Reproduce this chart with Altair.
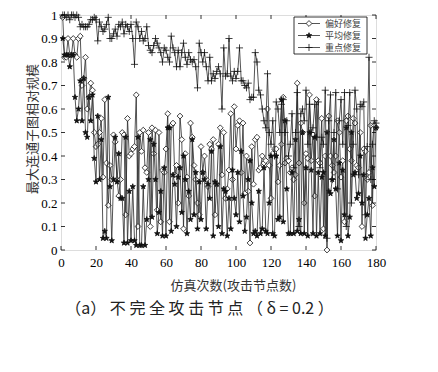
import altair as alt
import pandas as pd

x_vals = list(range(1, 181))

pref = [
    0.99, 0.82, 0.82, 0.90, 0.83, 0.83, 0.90, 0.83, 0.82, 0.90,
    0.91, 0.70, 0.73, 0.82, 0.60, 0.65, 0.71, 0.68, 0.50, 0.44,
    0.45, 0.50, 0.56, 0.31, 0.64, 0.37, 0.19, 0.36, 0.30, 0.49,
    0.46, 0.30, 0.23, 0.30, 0.50, 0.49, 0.15, 0.56, 0.40, 0.41,
    0.43, 0.44, 0.66, 0.10, 0.50, 0.42, 0.51, 0.35, 0.33, 0.50,
    0.10, 0.52, 0.41, 0.51, 0.17, 0.50, 0.12, 0.34, 0.33, 0.43,
    0.58, 0.12, 0.53, 0.54, 0.32, 0.36, 0.20, 0.57, 0.47, 0.09,
    0.41, 0.31, 0.23, 0.54, 0.48, 0.36, 0.30, 0.20, 0.15, 0.44,
    0.33, 0.40, 0.30, 0.27, 0.45, 0.43, 0.47, 0.15, 0.28, 0.45,
    0.52, 0.32, 0.50, 0.22, 0.26, 0.34, 0.58, 0.30, 0.61, 0.43,
    0.53, 0.55, 0.33, 0.54, 0.24, 0.40, 0.25, 0.03, 0.44, 0.28,
    0.47, 0.48, 0.34, 0.35, 0.40, 0.37, 0.38, 0.60, 0.36, 0.22,
    0.41, 0.43, 0.43, 0.29, 0.36, 0.45, 0.65, 0.37, 0.39, 0.38,
    0.33, 0.35, 0.30, 0.32, 0.71, 0.37, 0.54, 0.50, 0.20, 0.41,
    0.39, 0.66, 0.38, 0.49, 0.23, 0.64, 0.38, 0.37, 0.56, 0.09,
    0.40, 0.00, 0.57, 0.40, 0.36, 0.33, 0.40, 0.55, 0.50, 0.31,
    0.38, 0.12, 0.55, 0.57, 0.43, 0.38, 0.56, 0.54, 0.36, 0.35,
    0.50, 0.10, 0.43, 0.42, 0.30, 0.33, 0.53, 0.19, 0.53, 0.52,
]

avg = [
    0.90, 0.83, 0.83, 0.83, 0.78, 0.83, 0.83, 0.65, 0.55, 0.60,
    0.72, 0.55, 0.73, 0.50, 0.48, 0.65, 0.55, 0.66, 0.39, 0.29,
    0.57, 0.30, 0.47, 0.05, 0.08, 0.05, 0.65, 0.27, 0.04, 0.30,
    0.48, 0.29, 0.41, 0.22, 0.22, 0.03, 0.48, 0.03, 0.25, 0.04,
    0.27, 0.04, 0.02, 0.48, 0.02, 0.02, 0.27, 0.02, 0.13, 0.30,
    0.47, 0.14, 0.45, 0.30, 0.07, 0.16, 0.25, 0.06, 0.35, 0.06,
    0.52, 0.52, 0.08, 0.32, 0.28, 0.10, 0.31, 0.35, 0.16, 0.40,
    0.30, 0.07, 0.25, 0.13, 0.47, 0.15, 0.33, 0.09, 0.29, 0.13,
    0.33, 0.30, 0.09, 0.28, 0.22, 0.42, 0.06, 0.29, 0.28, 0.10,
    0.44, 0.07, 0.26, 0.25, 0.06, 0.22, 0.09, 0.34, 0.22, 0.15,
    0.33, 0.12, 0.42, 0.23, 0.08, 0.14, 0.30, 0.38, 0.20, 0.07,
    0.08, 0.06, 0.25, 0.07, 0.09, 0.35, 0.08, 0.07, 0.20, 0.40,
    0.07, 0.06, 0.40, 0.13, 0.14, 0.64, 0.12, 0.55, 0.26, 0.07,
    0.07, 0.33, 0.07, 0.47, 0.08, 0.13, 0.07, 0.50, 0.07, 0.35,
    0.06, 0.50, 0.34, 0.07, 0.48, 0.06, 0.33, 0.07, 0.31, 0.33,
    0.06, 0.50, 0.25, 0.24, 0.30, 0.47, 0.26, 0.06, 0.37, 0.04,
    0.34, 0.15, 0.52, 0.06, 0.14, 0.50, 0.32, 0.33, 0.22, 0.24,
    0.40, 0.20, 0.32, 0.05, 0.15, 0.22, 0.06, 0.35, 0.27, 0.52,
]

key = [
    1.00, 1.00, 0.99, 1.00, 0.98, 1.00, 1.00, 0.99, 1.00, 0.99,
    0.95, 0.96, 0.95, 0.95, 0.95, 0.96, 0.98, 0.98, 0.99, 0.98,
    0.89, 0.97, 0.95, 0.93, 0.94, 0.96, 0.99, 0.90, 0.90, 0.92,
    0.94, 0.91, 0.96, 0.95, 0.97, 0.92, 0.96, 0.95, 0.93, 0.96,
    0.90, 0.79, 0.97, 0.95, 0.90, 0.93, 0.89, 0.90, 0.95, 0.87,
    0.85, 0.84, 0.87, 0.90, 0.88, 0.86, 0.84, 0.80, 0.86, 0.85,
    0.82, 0.80, 0.91, 0.86, 0.84, 0.78, 0.85, 0.78, 0.84, 0.88,
    0.82, 0.79, 0.84, 0.81, 0.80, 0.81, 0.78, 0.69, 0.88, 0.84,
    0.80, 0.84, 0.78, 0.72, 0.82, 0.72, 0.75, 0.73, 0.76, 0.78,
    0.75, 0.60, 0.86, 0.74, 0.75, 0.90, 0.74, 0.72, 0.76, 0.73,
    0.76, 0.86, 0.72, 0.72, 0.70, 0.69, 0.71, 0.64, 0.65, 0.65,
    0.84, 0.80, 0.68, 0.66, 0.60, 0.55, 0.52, 0.75, 0.50, 0.45,
    0.55, 0.40, 0.63, 0.60, 0.50, 0.62, 0.64, 0.50, 0.55, 0.40,
    0.45, 0.58, 0.35, 0.50, 0.67, 0.10, 0.58, 0.60, 0.55, 0.68,
    0.45, 0.62, 0.50, 0.52, 0.62, 0.48, 0.63, 0.35, 0.48, 0.45,
    0.68, 0.05, 0.55, 0.66, 0.30, 0.50, 0.67, 0.26, 0.55, 0.64,
    0.45, 0.67, 0.10, 0.53, 0.67, 0.20, 0.45, 0.68, 0.60, 0.32,
    0.62, 0.61, 0.63, 0.15, 0.44, 0.82, 0.30, 0.45, 0.55, 0.54,
]

series_names = ["偏好修复", "平均修复", "重点修复"]
x_ticks = [0, 20, 40, 60, 80, 100, 120, 140, 160, 180]
y_ticks = [0, 0.1, 0.2, 0.3, 0.4, 0.5, 0.6, 0.7, 0.8, 0.9, 1.0]

TOP = 7
W, H = 315, 242 - TOP
SERIF = "Liberation Serif, Noto Sans CJK SC"
CJK = "Noto Sans CJK SC"
INK = "#2a2a2a"
MK = "#111111"
PLUS = "M -1 0 L 1 0 M 0 -1 L 0 1"
STAR = ("M0,-1 L0.235,-0.324 L0.951,-0.309 L0.380,0.124 L0.588,0.809 L0,0.4 "
        "L-0.588,0.809 L-0.380,0.124 L-0.951,-0.309 L-0.235,-0.324 Z")

def frame(vals, name):
    return pd.DataFrame({"x": x_vals, "y": vals, "s": name})

df_p = frame(pref, series_names[0])
df_a = frame(avg, series_names[1])
df_k = frame(key, series_names[2])

xs = alt.Scale(domain=[0, 180], nice=False, zero=False)
ys = alt.Scale(domain=[0, 1], nice=False)

xax = alt.Axis(values=x_ticks, title="仿真次数(攻击节点数)", labelFont=SERIF, labelFontSize=13,
               labelColor="black", tickSize=0, labelPadding=6, domain=False, grid=False,
               labelOverlap=False, orient="bottom", labelFlush=False,
               titleFont=CJK, titleFontSize=13, titleFontWeight="normal", titleColor="#333",
               titleX=172, titleY=35, titleAlign="center", titleBaseline="middle")
yax = alt.Axis(values=y_ticks, title="最大连通子图相对规模", labelFont=SERIF, labelFontSize=13,
               labelColor="black", tickSize=0, labelPadding=4, domain=False, grid=False,
               labelOverlap=False, orient="left", labelFlush=False,
               format="~g", titleFont=CJK, titleFontSize=13, titleFontWeight="normal",
               titleColor="#333", titleX=-29, titleY=H / 2 - 4, titleAlign="center",
               titleBaseline="middle", titleAngle=270)

X = lambda f: alt.X(f, scale=xs, axis=xax)
Y = lambda f: alt.Y(f, scale=ys, axis=yax)

def line(df):
    return alt.Chart(df).mark_line(color=INK, strokeWidth=0.8).encode(x=X("x:Q"), y=Y("y:Q"))

def pkw(shape, filled, size, fill=None):
    kw = dict(shape=shape, size=size, stroke=MK, strokeWidth=0.8, opacity=1)
    if filled:
        kw.update(filled=True, fill=MK)
    elif fill:
        kw.update(filled=True, fill=fill)
    else:
        kw.update(filled=False)
    return kw

def pts(df, shape, filled, size, fill=None):
    return alt.Chart(df).mark_point(**pkw(shape, filled, size, fill)).encode(
        x=X("x:Q"), y=Y("y:Q"))

D_SIZE, S_SIZE, P_SIZE = 34, 32, 50

layers = [
    line(df_p), pts(df_p, "diamond", False, D_SIZE, fill="white"),
    line(df_a), pts(df_a, STAR, True, S_SIZE),
    line(df_k), pts(df_k, PLUS, False, P_SIZE),
]

# inward ticks
tx = pd.DataFrame({"t": x_ticks})
ty = pd.DataFrame({"t": y_ticks})
layers += [
    alt.Chart(tx).mark_rule(color="black", strokeWidth=0.8).encode(
        x=X("t:Q"), y=alt.value(H), y2=alt.value(H - 4)),
    alt.Chart(tx).mark_rule(color="black", strokeWidth=0.8).encode(
        x=X("t:Q"), y=alt.value(0), y2=alt.value(4)),
    alt.Chart(ty).mark_rule(color="black", strokeWidth=0.8).encode(
        y=Y("t:Q"), x=alt.value(0), x2=alt.value(4)),
    alt.Chart(ty).mark_rule(color="black", strokeWidth=0.8).encode(
        y=Y("t:Q"), x=alt.value(W), x2=alt.value(W - 4)),
]

# legend box (manual)
lx0, lx1, ly0, ly1 = 233, 306, 2, 39
one = pd.DataFrame({"a": [0]})
layers.append(alt.Chart(one).mark_rect(fill="white", stroke="black", strokeWidth=0.8).encode(
    x=alt.value(lx0), x2=alt.value(lx1), y=alt.value(ly0), y2=alt.value(ly1)))
rows = [8.5, 20.5, 32.5]
marks = [("diamond", False, D_SIZE, "white"), (STAR, True, S_SIZE, None), (PLUS, False, P_SIZE, None)]
for name, ry, (shp, fl, sz, fc) in zip(series_names, rows, marks):
    layers.append(alt.Chart(one).mark_rule(color=INK, strokeWidth=0.8).encode(
        x=alt.value(lx0 + 4), x2=alt.value(lx0 + 26), y=alt.value(ry)))
    layers.append(alt.Chart(one).mark_point(**pkw(shp, fl, sz, fc)).encode(
        x=alt.value(lx0 + 15), y=alt.value(ry)))
    layers.append(alt.Chart(pd.DataFrame({"t": [name]})).mark_text(
        font=CJK, fontSize=9, color="#444", align="left", baseline="middle").encode(
        x=alt.value(lx0 + 31), y=alt.value(ry), text="t:N"))

chart = alt.layer(*layers).properties(
    width=W, height=H,
    title=alt.TitleParams("（a） 不 完 全 攻 击 节 点 （  δ = 0.2  ）", orient="bottom", anchor="middle",
                          font=CJK, fontSize=16, fontWeight="normal", color="#222", offset=9, dx=-19),
    autosize=alt.AutoSizeParams(type="none"),
    padding={"left": 53, "top": TOP, "right": 30, "bottom": 100},
).configure_view(stroke="black", strokeWidth=1).configure(background="white")

chart.save("out.html", embed_options={"renderer": "svg", "actions": False})
